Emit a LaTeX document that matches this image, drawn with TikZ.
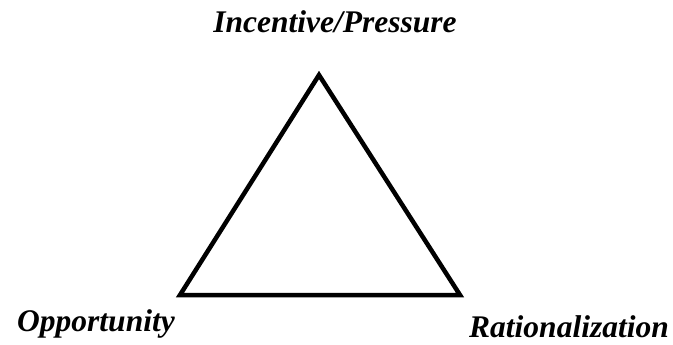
\documentclass[tikz,border=0pt]{standalone}
\usepackage{fontspec}
\setmainfont{Liberation Serif}
\begin{document}
\begin{tikzpicture}[
		x=1pt, y=-1pt,
		side/.style={line width=4.5pt, line join=miter},
		lab/.style={
			font=\fontsize{31.5}{34}\selectfont\bfseries\itshape,
			inner sep=0pt
		}
		]
		
		\useasboundingbox (0,0) rectangle (673,345);
		
		% Corners
		\coordinate (top) at (319,75);
		\coordinate (left) at (180,295);
		\coordinate (right) at (460,295);
		
		% Triangle
		\draw[side] (top) -- (right) -- (left) -- cycle;
		
		% Labels
		\node[lab] (pressure) at (335,22) {Incentive/Pressure};
		\node[lab] (opportunity) at (96,324) {Opportunity};
		\node[lab] (rational) at (569,327) {Rationalization};
		
	\end{tikzpicture}
\end{document}
